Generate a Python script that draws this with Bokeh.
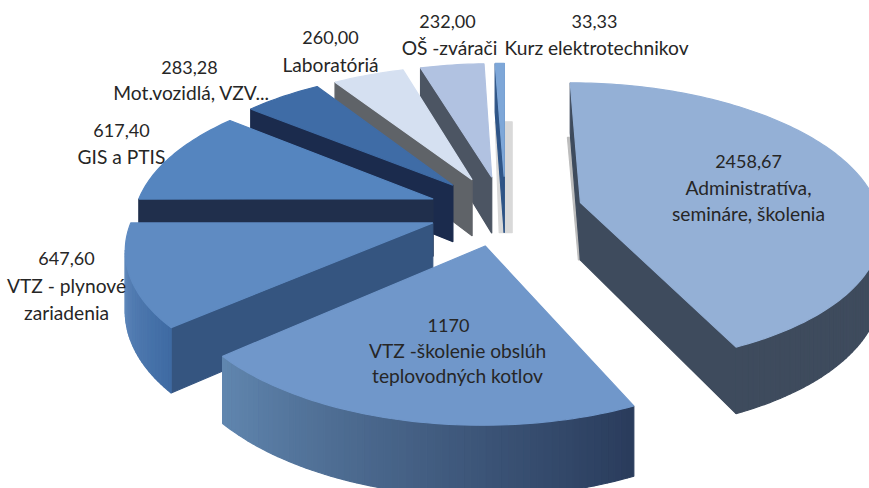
import math
from bokeh.plotting import figure
from bokeh.models import ColumnDataSource
from bokeh.core.properties import value
from bokeh.embed import file_html
from bokeh.resources import INLINE

# --- data ---
categories = ["Administratíva, semináre, školenia", "VTZ -školenie obslúh teplovodných kotlov",
              "VTZ - plynové zariadenia", "GIS a PTIS", "Mot.vozidlá, VZV...",
              "Laboratóriá", "OŠ -zvárači", "Kurz elektrotechnikov"]
values = [2458.67, 1170, 647.60, 617.40, 283.28, 260.00, 232.00, 33.33]
value_labels = ["2458,67", "1170", "647,60", "617,40", "283,28", "260,00", "232,00", "33,33"]
label_lines = [["Administratíva,", "semináre, školenia"], ["VTZ -školenie obslúh", "teplovodných kotlov"],
               ["VTZ - plynové", "zariadenia"], ["GIS a PTIS"], ["Mot.vozidlá, VZV..."],
               ["Laboratóriá"], ["OŠ -zvárači"], ["Kurz elektrotechnikov"]]

# --- styling ---
face_colors = ["#94b0d6", "#7097ca", "#5f8bc2", "#5585bf", "#3f6ca6", "#d5e0f1", "#b1c2e1", "#7ea7d8"]
edge_colors = ["#3e4b5d", "#2a3c5d", "#355580", "#202f4c", "#1b2b4d", "#5f6368", "#4c5563", "#2f5587"]
arc_from = ["#3e4b5d", "#2a3c5c", "#3f6ba3", "#3f6ba3", "#3f6ba3", "#5f6368", "#4c5563", "#2f5587"]
arc_to = ["#3e4b5d", "#6187b0", "#6a92c4", "#6a92c4", "#3f6ba3", "#5f6368", "#4c5563", "#2f5587"]
draw_order = [7, 6, 5, 4, 3, 2, 0, 1]
explode = [0.27, 0.25, 0.25, 0.25, 0.25, 0.25, 0.25, 0.25]
slice_dx = [2, 1, 3, 2, 1, 2, 3, 5]
label_anchor = [(748, 161, 26), (457, 325, 25), (66, 258, 27), (121, 130, 26),
                (191, 67, 25), (330, 37, 27), (449, 21, 26), (596, 21, 26)]
value_dx = [0, -9, 0, 0, -2, 0, -2, -2]

# --- projection of the exploded, tilted pie ---
CX, CY, AX, BY, D, DEPTH = 500, 210, 298, 140, 6.6, 58


def project(px, py, dx=0):
    s = D / (D + py)
    return CX + dx + px * s * AX, CY - py * s * BY, s


def mix(c1, c2, t):
    a = [int(c1[i:i + 2], 16) for i in (1, 3, 5)]
    b = [int(c2[i:i + 2], 16) for i in (1, 3, 5)]
    return "#%02x%02x%02x" % tuple(round(u + (v - u) * t) for u, v in zip(a, b))


total = sum(values)
xs, ys, fills = [], [], []


def add(poly, color):
    xs.append([q[0] for q in poly])
    ys.append([q[1] for q in poly])
    fills.append(color)


def low(q):
    return (q[0], q[1] + DEPTH * q[2])


angles = [0.0]
for v in values:
    angles.append(angles[-1] + v / total * 2 * math.pi)


def facing(p, q, inner):
    ex, ey = q[0] - p[0], q[1] - p[1]
    nx, ny = -ey, ex
    if nx * (inner[0] - p[0]) + ny * (inner[1] - p[1]) > 0:
        nx, ny = -nx, -ny
    return ny > 0


for i in draw_order:
    a0, a1 = angles[i], angles[i + 1]
    mid = (a0 + a1) / 2
    ox, oy = explode[i] * math.sin(mid), explode[i] * math.cos(mid)
    apex = project(ox, oy, slice_dx[i])
    n = max(4, int((a1 - a0) / 0.02))
    arc = []
    for k in range(n + 1):
        t = a0 + (a1 - a0) * k / n
        arc.append(project(ox + math.sin(t), oy + math.cos(t), slice_dx[i]))
    cx = sum(q[0] for q in arc) / len(arc)
    cy = sum(q[1] for q in arc) / len(arc)

    # soft grey fringes seen behind the two slices next to the gap at the top
    bottom = low(apex)
    if i == 0:
        add([(apex[0] - 13, apex[1] - 65), (apex[0], apex[1] - 65), (apex[0] + 1, bottom[1]),
             (apex[0] - 2, bottom[1])], "#bdbdbd")
    if i == 7:
        add([(apex[0] - 9, apex[1] - 55), (apex[0] + 8, apex[1] - 55), (apex[0] + 8, bottom[1]),
             (apex[0] - 5, bottom[1])], "#d9d9d9")

    for end in (arc[0], arc[-1]):
        if facing(apex, end, (cx, cy)):
            add([apex[:2], end[:2], low(end), low(apex)], edge_colors[i])
    for k in range(n):
        p, q = arc[k], arc[k + 1]
        if facing(p, q, apex):
            add([p[:2], q[:2], low(q), low(p)], mix(arc_from[i], arc_to[i], k / n))
    add([apex[:2]] + [q[:2] for q in arc], face_colors[i])

W, H = 869, 488
p = figure(width=W, height=H, x_range=(0, W), y_range=(H, 0),
           output_backend="svg", toolbar_location=None, min_border=0)
p.axis.visible = False
p.grid.visible = False
p.outline_line_color = None

src = ColumnDataSource(dict(xs=xs, ys=ys, fill=fills))
p.patches("xs", "ys", source=src, fill_color="fill", line_color="fill", line_width=1.2)

tx, ty, tt, vx, vy, vt = [], [], [], [], [], []
for i, (ax, ay, step) in enumerate(label_anchor):
    vx.append(ax + value_dx[i])
    vy.append(ay)
    vt.append(value_labels[i])
    for j, line in enumerate(label_lines[i]):
        tx.append(ax)
        ty.append(ay + step * (j + 1))
        tt.append(line)
for X, Y, T, size in ((vx, vy, vt, "18px"), (tx, ty, tt, "19.2px")):
    p.text(X, Y, text=T, text_font=value("Lato"), text_font_size=size,
           text_align="center", text_baseline="middle", text_color="#262626")

open("out.html", "w").write(file_html(p, INLINE))
